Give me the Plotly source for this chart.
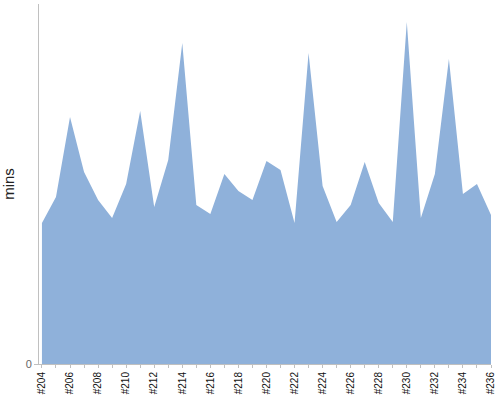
import plotly.graph_objects as go

categories = ["#%d" % n for n in range(204, 237)]
mins = [141, 167, 247, 192, 164, 146, 180, 253, 157, 204, 321, 159, 150, 190, 173,
        164, 203, 194, 141, 311, 178, 142, 159, 202, 161, 142, 342, 146, 190, 305,
        170, 180, 149]
tick_labels = [c if i % 2 == 0 else "" for i, c in enumerate(categories)]

fig = go.Figure()
fig.add_trace(go.Scatter(
    x=list(range(len(categories))), y=mins, mode="lines", fill="tozeroy",
    line=dict(width=0, color="#8fb1da"), fillcolor="#8fb1da",
    hoverinfo="skip", showlegend=False,
))

fig.update_layout(
    width=500, height=400,
    margin=dict(l=39, r=9, t=4, b=36),
    paper_bgcolor="white", plot_bgcolor="white",
    font=dict(family="Liberation Sans, Arial, sans-serif", color="#222"),
    xaxis=dict(
        range=[-0.21, 32], tickmode="array",
        tickvals=list(range(len(categories))), ticktext=tick_labels,
        tickangle=-90, tickfont=dict(size=10, color="#111"),
        showgrid=False, zeroline=False, showline=True, linecolor="#c0c0c0",
        ticks="outside", ticklen=3, tickcolor="#c0c0c0", automargin=False,
    ),
    yaxis=dict(
        range=[0, 360], tickmode="array", tickvals=[0], ticktext=["0"],
        tickfont=dict(size=11, color="#666"),
        showgrid=False, zeroline=False, showline=True, linecolor="#c0c0c0",
        ticks="outside", ticklen=4, tickcolor="#c0c0c0",
        title=dict(text="mins", font=dict(size=15, color="#222"), standoff=9),
        automargin=False,
    ),
)

fig.write_html("out.html", config={"displayModeBar": False},
               post_script="document.body.style.margin='0';document.body.style.overflow='hidden';")
